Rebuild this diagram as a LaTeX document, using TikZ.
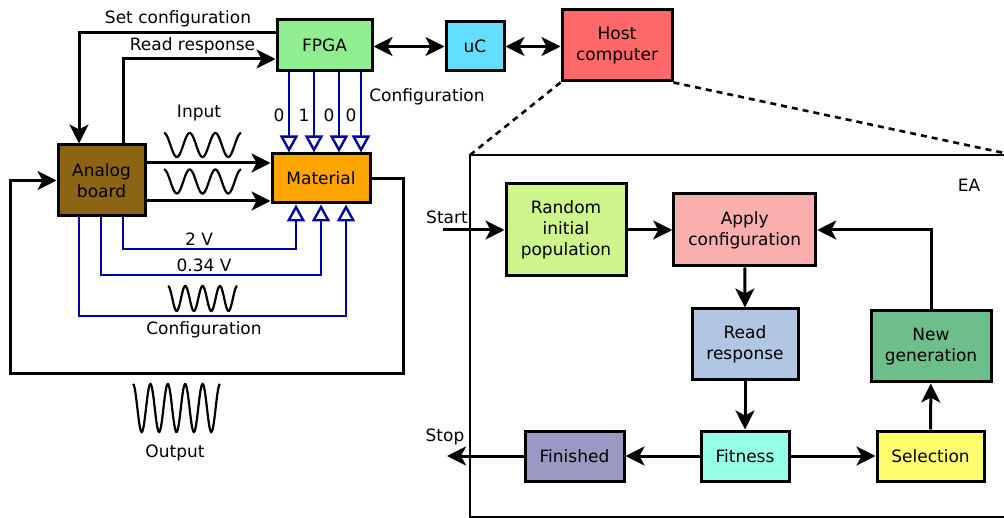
\documentclass[tikz,border=0pt]{standalone}
\usepackage{fontspec}
\setmainfont{DejaVu Sans}
\usetikzlibrary{arrows.meta}
\definecolor{cfpga}{RGB}{144,238,144}
\definecolor{cuc}{RGB}{100,222,255}
\definecolor{chost}{RGB}{255,105,105}
\definecolor{canalog}{RGB}{139,101,20}
\definecolor{cmat}{RGB}{255,165,0}
\definecolor{crand}{RGB}{205,245,140}
\definecolor{capply}{RGB}{250,175,175}
\definecolor{cread}{RGB}{176,198,226}
\definecolor{cnew}{RGB}{110,190,140}
\definecolor{cfin}{RGB}{153,153,195}
\definecolor{cfit}{RGB}{150,255,232}
\definecolor{csel}{RGB}{255,255,110}
\definecolor{bline}{RGB}{0,0,165}
\newcommand\dgfont{\fontsize{17}{21}\selectfont}
\begin{document}
\begin{tikzpicture}[x=1pt,y=-1pt,
  box/.style={draw, line width=3pt, align=center, inner sep=0pt, font=\dgfont},
  lbl/.style={inner sep=0pt, font=\dgfont},
  conn/.style={line width=3pt, -{Stealth[length=19pt,width=19pt,inset=5pt]}},
  dconn/.style={line width=3pt, {Stealth[length=19pt,width=19pt,inset=5pt]}-{Stealth[length=19pt,width=19pt,inset=5pt]}},
  bconn/.style={line width=2.4pt, draw=bline, -{Triangle[length=17pt,width=18pt,fill=white]}},
  wave/.style={line width=2.2pt}]
\useasboundingbox (0,0) rectangle (1004,518);

% top row
\node[box, fill=cfpga, minimum width=95pt, minimum height=51pt] (fpga) at (324.5,45.5) {FPGA};
\node[box, fill=cuc, minimum width=58pt, minimum height=49pt] (uc) at (475,46.5) {uC};
\node[box, fill=chost, minimum width=110pt, minimum height=71pt] (host) at (617,45.5) {Host\\computer};
\draw[dconn] (fpga.east |- uc.west) -- (uc.west);
\draw[dconn] (uc.east) -- (uc.east -| host.west);

% left part
\node[box, fill=canalog, minimum width=87pt, minimum height=71pt] (analog) at (101.5,180.5) {Analog\\board};
\node[box, fill=cmat, minimum width=98pt, minimum height=49pt] (material) at (321,178.5) {Material};

\coordinate (sc) at (79,33);
\coordinate (rr) at (123,59);
\draw[conn] (fpga.west |- sc) -- (sc) -- (sc |- analog.north);
\draw[conn] (rr |- analog.north) -- (rr) -- (rr -| fpga.west);
\node[lbl] (lsc) at (178,19) {Set configuration};
\node[lbl] (lrr) at (192.5,46) {Read response};

\coordinate (in1) at (146,163);
\coordinate (in2) at (146,201);
\draw[conn] (analog.east |- in1) -- (material.west |- in1);
\draw[conn] (analog.east |- in2) -- (material.west |- in2);
\node[lbl] (linput) at (199,113) {Input};
\draw[wave] plot[smooth, samples=90, domain=0:3, variable=\t] ({164+25.7*\t},{145-12*cos(360*\t)});
\draw[wave] plot[smooth, samples=90, domain=0:3, variable=\t] ({164+25.7*\t},{181.5-12*cos(360*\t)});

% FPGA -> material configuration bits
\foreach \xx/\bit/\nm in {289/0/a,314/1/b,339/0/c,361/0/d}{
  \coordinate (cb\nm) at (\xx,0);
  \draw[bconn] (fpga.south -| cb\nm) -- (material.north -| cb\nm);
  \node[lbl] (bit\nm) at (\xx-10,115) {\bit};
}
\node[lbl] (lconf1) at (427,97) {Configuration};

% analog -> material blue lines
\coordinate (v1) at (123,249); \coordinate (v1t) at (296,249);
\coordinate (v2) at (101,275); \coordinate (v2t) at (321,275);
\coordinate (v3) at (79,316);  \coordinate (v3t) at (346,316);
\draw[bconn] (analog.south -| v1) -- (v1) -- (v1t) -- (material.south -| v1t);
\draw[bconn] (analog.south -| v2) -- (v2) -- (v2t) -- (material.south -| v2t);
\draw[bconn] (analog.south -| v3) -- (v3) -- (v3t) -- (material.south -| v3t);
\node[lbl] (l2v) at (199,239) {2 V};
\node[lbl] (l034) at (204,265) {0.34 V};
\node[lbl] (lconf2) at (204,330) {Configuration};
\draw[wave] plot[smooth, samples=100, domain=0:4, variable=\t] ({168+17.3*\t},{298.5-12.5*cos(360*\t)});

% feedback
\coordinate (fbr) at (403,374);
\coordinate (fbl) at (10,374);
\draw[conn] (material.east) -| (fbr) -- (fbl) |- (analog.west);
\draw[wave] plot[smooth, samples=120, domain=0:5, variable=\t] ({133+17.4*\t},{408-24*cos(360*\t)});
\node[lbl] (lout) at (175,453) {Output};

% host zoom
\draw[line width=2.6pt, dash pattern=on 6pt off 5pt] (host.south west) -- (470,155);
\draw[line width=2.6pt, dash pattern=on 6pt off 5pt] (host.south east) -- (1004,153);
\draw[line width=1.5pt] (1010,155) -- (470,155) -- (470,517) -- (1010,517);
\node[lbl] (lea) at (969,185) {EA};

% EA flow
\node[box, fill=crand, minimum width=120pt, minimum height=92pt] (rand) at (566,230) {Random\\initial\\population};
\node[box, fill=capply, minimum width=142pt, minimum height=72pt] (apply) at (744.75,230) {Apply\\configuration};
\node[box, fill=cread, minimum width=106pt, minimum height=71pt] (read) at (745,344.5) {Read\\response};
\node[box, fill=cnew, minimum width=120pt, minimum height=71pt] (newgen) at (931,346.5) {New\\generation};
\node[box, fill=cfin, minimum width=99pt, minimum height=50pt] (finished) at (574.5,456) {Finished};
\node[box, fill=cfit, minimum width=88pt, minimum height=50pt] (fitness) at (745,456) {Fitness};
\node[box, fill=csel, minimum width=107pt, minimum height=50pt] (selection) at (930.5,456) {Selection};

\coordinate (start) at (443,230);
\coordinate (stop) at (447,456);
\node[lbl] (lstart) at (447,217) {Start};
\node[lbl] (lstop) at (445,437) {Stop};
\draw[conn] (start) -- (rand.west);
\draw[conn] (rand) -- (apply);
\draw[conn] (apply) -- (read);
\draw[conn] (read) -- (fitness);
\draw[conn] (fitness) -- (finished);
\draw[conn] (finished) -- (stop);
\draw[conn] (fitness) -- (selection);
\draw[conn] (selection) -- (newgen);
\draw[conn] (newgen.north) |- (apply.east);
\end{tikzpicture}
\end{document}
